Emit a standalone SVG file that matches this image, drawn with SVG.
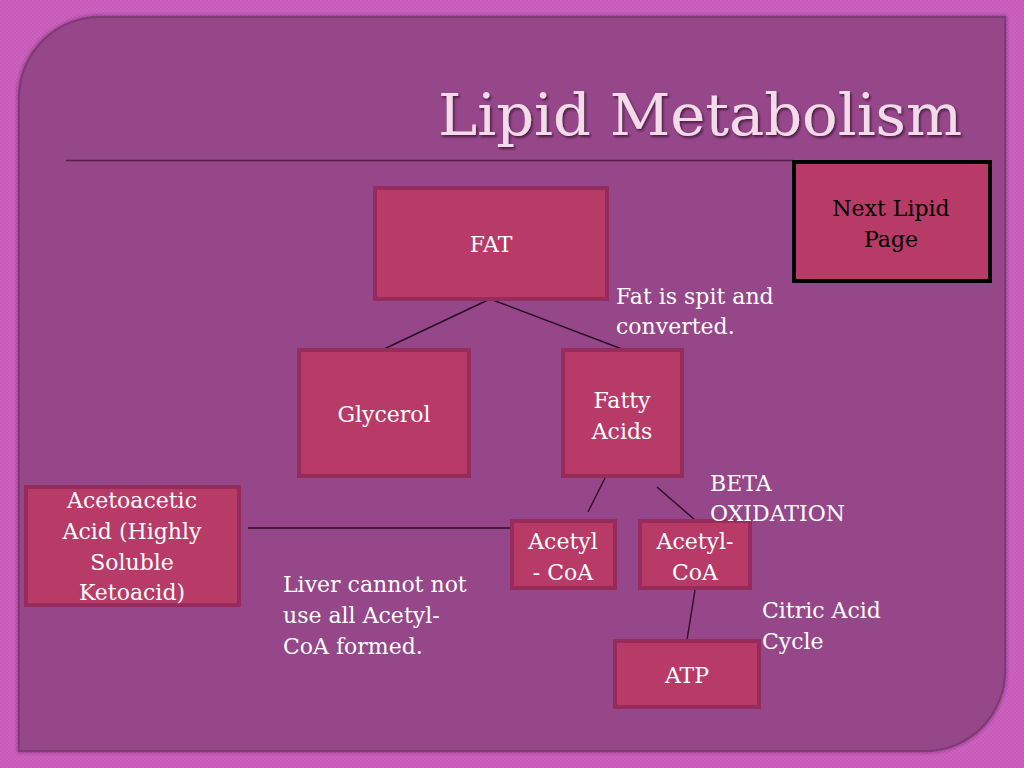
<svg xmlns="http://www.w3.org/2000/svg" width="1024" height="768" viewBox="0 0 1024 768">
<defs>
<pattern id="tex" width="4" height="4" patternUnits="userSpaceOnUse">
<rect width="4" height="4" fill="#c65ab8"/>
<rect width="2" height="2" fill="#cd63bf"/>
<rect x="2" y="2" width="2" height="2" fill="#cd63bf"/>
</pattern>
<filter id="ts" x="-5%" y="-20%" width="110%" height="140%">
<feDropShadow dx="1.5" dy="2" stdDeviation="1" flood-color="#3a0f33" flood-opacity="0.8"/>
</filter>
<filter id="ps" x="-5%" y="-5%" width="110%" height="110%">
<feDropShadow dx="0" dy="0" stdDeviation="2" flood-color="#5a1d50" flood-opacity="0.7"/>
</filter>
</defs>
<style>
.node{fill:#b73a67;stroke:#952c5c;stroke-width:4}
.nl{font-family:"DejaVu Serif","Liberation Serif",serif;font-size:22px;fill:#ffffff;text-anchor:middle}
.lbl{font-family:"DejaVu Serif","Liberation Serif",serif;font-size:22px;fill:#ffffff}
.con line{stroke:#2a0c26;stroke-width:1.4}
</style>
<rect width="1024" height="768" fill="url(#tex)"/>
<path d="M100,17 H1005 V670 A80,80 0 0 1 925,751 H19 V98 A81,81 0 0 1 100,17 Z" fill="#95478a" stroke="#7e3a74" stroke-width="2" filter="url(#ps)"/>
<line x1="66" y1="160.5" x2="793" y2="160.5" stroke="#5a1d4e" stroke-width="1.6"/>
<text x="438" y="135" font-family="DejaVu Serif,'Liberation Serif',serif" font-size="58" fill="#f3dbea" textLength="524" lengthAdjust="spacingAndGlyphs" filter="url(#ts)">Lipid Metabolism</text>
<g class="con">
<line x1="490" y1="299" x2="384" y2="349"/>
<line x1="490" y1="299" x2="622" y2="349"/>
<line x1="605" y1="478" x2="588" y2="512"/>
<line x1="657" y1="487" x2="695" y2="520"/>
<line x1="248" y1="528" x2="511" y2="528"/>
<line x1="695" y1="590" x2="687" y2="640"/>
</g>
<g id="fat"><rect class="node" x="375" y="188" width="232" height="111"/><text class="nl" x="491" y="252">FAT</text></g>
<g id="next"><rect x="794" y="162" width="196" height="119" fill="#b73a67" stroke="#000" stroke-width="4"/><text x="891" y="216" font-family="DejaVu Serif,'Liberation Serif',serif" font-size="22" fill="#000" text-anchor="middle">Next Lipid</text><text x="891" y="247" font-family="DejaVu Serif,'Liberation Serif',serif" font-size="22" fill="#000" text-anchor="middle">Page</text></g>
<g id="glycerol"><rect class="node" x="299" y="350" width="170" height="126"/><text class="nl" x="384" y="422">Glycerol</text></g>
<g id="fatty"><rect class="node" x="563" y="350" width="119" height="126"/><text class="nl" x="622" y="408">Fatty</text><text class="nl" x="622" y="439">Acids</text></g>
<g id="aceto"><rect class="node" x="26" y="487" width="213" height="118"/><text class="nl" x="132" y="508">Acetoacetic</text><text class="nl" x="132" y="539">Acid (Highly</text><text class="nl" x="132" y="570">Soluble</text><text class="nl" x="132" y="600">Ketoacid)</text></g>
<g id="acetyl1"><rect class="node" x="512" y="521" width="103" height="67"/><text class="nl" x="563" y="549">Acetyl</text><text class="nl" x="563" y="580">- CoA</text></g>
<g id="acetyl2"><rect class="node" x="640" y="521" width="110" height="67"/><text class="nl" x="695" y="549">Acetyl-</text><text class="nl" x="695" y="580">CoA</text></g>
<g id="atp"><rect class="node" x="615" y="641" width="144" height="66"/><text class="nl" x="687" y="683">ATP</text></g>
<g id="labels">
<text class="lbl" x="616" y="304">Fat is spit and</text>
<text class="lbl" x="616" y="334">converted.</text>
<text class="lbl" x="710" y="491">BETA</text>
<text class="lbl" x="710" y="521">OXIDATION</text>
<text class="lbl" x="283" y="592">Liver cannot not</text>
<text class="lbl" x="283" y="623">use all Acetyl-</text>
<text class="lbl" x="283" y="654">CoA formed.</text>
<text class="lbl" x="762" y="618">Citric Acid</text>
<text class="lbl" x="762" y="649">Cycle</text>
</g>
</svg>
